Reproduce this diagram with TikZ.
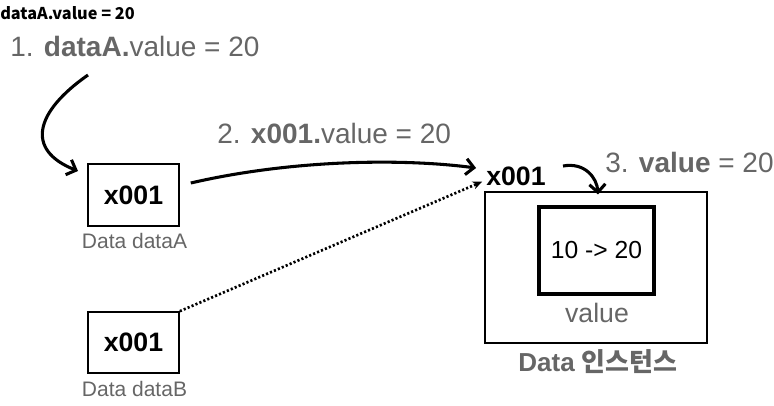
\documentclass[tikz,border=0pt]{standalone}
\usepackage{fontspec}
\setmainfont{Liberation Sans}
\newfontfamily\kr{Noto Sans CJK KR}
\usetikzlibrary{arrows.meta}
\definecolor{tg}{RGB}{102,102,102}
\begin{document}
\begin{tikzpicture}[x=0.75pt,y=-0.75pt,
  lbl/.style={inner sep=0pt, text=tg, font=\fontsize{21}{25}\selectfont},
  captxt/.style={inner sep=0pt, text=tg, font=\fontsize{15.75}{19}\selectfont},
  refbox/.style={draw=black, line width=1.2pt, minimum width=68.25pt, minimum height=46.5pt, inner sep=0pt, font=\fontsize{20}{24}\selectfont\bfseries},
  arr/.style={line width=2.3pt, -{Straight Barb[length=6pt,width=12pt]}},
  dots/.style={line width=2pt, dash pattern=on 1.6pt off 1.6pt, -{Stealth[length=7pt,width=6pt]}}]
\useasboundingbox (0,0) rectangle (774,406);

\node[anchor=base west, inner sep=0pt, font=\kr\bfseries\fontsize{12.2}{14}\selectfont] (title) at (0,20) {dataA.value = 20};

\node[lbl, anchor=base west] (s1) at (10,57) {1. \textbf{dataA.}value = 20};
\node[lbl, anchor=base west] (s2) at (217,144) {2. \textbf{x001.}value = 20};
\node[lbl, anchor=base west] (s3) at (605,172) {3. \textbf{value} = 20};

\node[refbox] (boxA) at (133.5,195) {x001};
\node[refbox, minimum height=45.75pt] (boxB) at (133.5,342.5) {x001};
\node[captxt] (capA) at (134.5,241) {Data dataA};
\node[captxt] (capB) at (134.5,389) {Data dataB};

\node[draw=black, line width=0.8pt, minimum width=166.5pt, minimum height=113.25pt, inner sep=0pt] (inst) at (596,267.5) {};
\node[draw=black, line width=3pt, minimum width=86.25pt, minimum height=65.25pt, inner sep=0pt, font=\fontsize{18.5}{22}\selectfont] (val) at (596.5,250.5) {10 -> 20};
\node[lbl, font=\fontsize{20}{24}\selectfont] (vlbl) at (597,313) {value};
\node[inner sep=0pt, text=tg, font=\fontsize{19.5}{23}\selectfont\bfseries] (instlbl) at (598,362) {Data {\kr 인스턴스}};
\node[inner sep=0pt, font=\fontsize{20}{24}\selectfont\bfseries] (addr) at (516,176) {x001};

\coordinate (c1s) at (88,75);
\coordinate (c1e) at (78,171);
\draw[arr] (c1s) .. controls (35,112) and (25,150) .. (c1e);

\draw[arr] ([shift={(11,-12)}]boxA.east) .. controls (290,160) and (400,158) .. ([shift={(-10,-8)}]addr.west);
\draw[dots] (boxB.north east) -- ([shift={(-4,-4)}]addr.south west);

\coordinate (c3s) at (563,166);
\draw[arr] (c3s) .. controls (585,162) and (597,178) .. ([shift={(2,3)}]inst.north);
\end{tikzpicture}
\end{document}
